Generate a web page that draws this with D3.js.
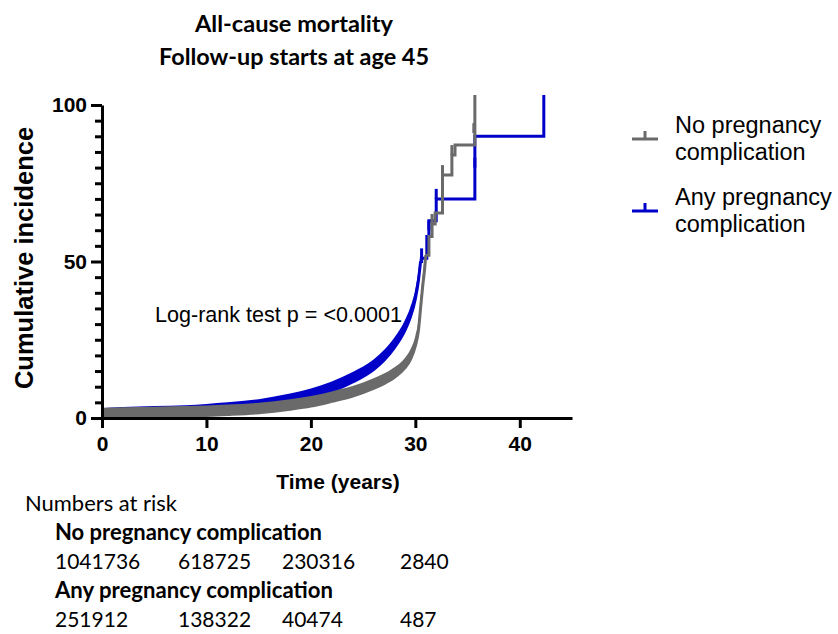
<!DOCTYPE html>
<html>
<head>
<meta charset="utf-8">
<script src="https://cdn.jsdelivr.net/npm/d3@7"></script>
<style>
  body { margin: 0; background: #fff; }
  .axis path, .axis line { stroke: #000; stroke-width: 3px; }
  .axis text { font-family: "Liberation Sans", Arial, sans-serif; font-weight: bold; font-size: 21px; fill: #000; }
</style>
</head>
<body>
<div id="chart"></div>
<script>
// ---- data ----
const titleLines = ["All-cause mortality", "Follow-up starts at age 45"]
const legendLines = [["No pregnancy", "complication"], ["Any pregnancy", "complication"]]
const xTicks = [0, 10, 20, 30, 40]
const yTicks = [0, 50, 100]
const yAllTicks = [0, 5, 10, 15, 20, 25, 30, 35, 40, 45, 50, 55, 60, 65, 70, 75, 80, 85, 90, 95, 100]

// [years, cumulative incidence %], dense part (drawn as a smooth curve with censor band)
const noCompCurve = [[0, 0], [2, 0.2], [5, 0.4], [8, 0.6], [10, 0.8], [12, 1.1], [15, 1.7], [18, 2.8],
  [20, 3.8], [22, 5.3], [24, 7.0], [26, 9.5], [27, 11], [28, 13], [29, 16], [29.5, 18.5], [30, 23],
  [30.3, 28], [30.5, 35], [30.7, 42], [30.9, 48], [31.0, 52]]
// visible steps after the dense part
const noCompSteps = [[31.0, 52], [31.3, 58], [31.6, 62], [31.9, 65.5], [32.6, 77.6], [33.5, 84], [33.8, 87.2], [35.7, 100]]
const noCompCensor = [[31.6, 62], [32.6, 77.6], [33.5, 84], [35.6, 91], [35.7, 100]]

const anyCompCurve = [[0, 0], [2, 0.3], [5, 0.6], [8, 0.9], [10, 1.3], [12, 1.8], [15, 2.8], [18, 4.6],
  [20, 6.2], [22, 8.5], [24, 11.5], [26, 15.5], [27, 18.5], [28, 22.5], [29, 28], [29.5, 32], [30, 38],
  [30.3, 44], [30.5, 50]]
const anyCompSteps = [[30.5, 50], [30.6, 51], [31.1, 58], [31.3, 63], [32.0, 70], [35.7, 90], [42.3, 100]]
const anyCompCensor = [[30.6, 51], [31.3, 60], [32.0, 70], [35.7, 80], [42.3, 100]]

const riskRowNames = ["No pregnancy complication", "Any pregnancy complication"]
const riskNoComp = [1041736, 618725, 230316, 2840]
const riskAnyComp = [251912, 138322, 40474, 487]

const logRankText = "Log-rank test p = <0.0001"

// ---- layout ----
const W = 838, H = 634
const plot = { left: 102, right: 572, top: 105, bottom: 418 }
const tickLen = 10
const gray = "#6a6a6a", blue = "#0000c8"

const svg = d3.select("#chart").append("svg")
  .attr("width", W)
  .attr("height", H)

const x = d3.scaleLinear().domain([0, 45]).range([plot.left, plot.right])
const y = d3.scaleLinear().domain([0, 100]).range([plot.bottom, plot.top])

// shrink/grow a text's font so it spans the width seen in the picture
function fitWidth(sel, width) {
  sel.each(function () {
    const fs = parseFloat(getComputedStyle(this).fontSize)
    const w = this.getComputedTextLength()
    if (w > 0) d3.select(this).style("font-size", (fs * width / w).toFixed(2) + "px")
  })
}

// title
const titleWidths = [198, 270]
svg.append("g").selectAll("text")
  .data(titleLines)
  .join("text")
  .attr("x", 294)
  .attr("y", (d, i) => 32 + i * 33)
  .attr("text-anchor", "middle")
  .style("font-family", "Lato, 'Open Sans', sans-serif")
  .style("font-weight", "bold")
  .style("font-size", "24px")
  .text(d => d)
  .each(function (d, i) { fitWidth(d3.select(this), titleWidths[i]) })

function drawSeries(curve, steps, censor, color) {
  const g = svg.append("g")

  g.append("path")
    .datum(curve)
    .attr("fill", color)
    .attr("d", d3.area()
      .x(d => x(d[0]))
      .y0(d => y(d[1]))
      .y1(d => y(d[1]) - tickLen)
      .curve(d3.curveMonotoneX))

  g.append("path")
    .datum(curve)
    .attr("fill", "none")
    .attr("stroke", color)
    .attr("stroke-width", 3)
    .attr("d", d3.line().x(d => x(d[0])).y(d => y(d[1])).curve(d3.curveMonotoneX))

  g.append("path")
    .datum(steps)
    .attr("fill", "none")
    .attr("stroke", color)
    .attr("stroke-width", 3)
    .attr("d", d3.line().x(d => x(d[0])).y(d => y(d[1])).curve(d3.curveStepAfter))

  g.selectAll("line")
    .data(censor)
    .join("line")
    .attr("x1", d => x(d[0]))
    .attr("x2", d => x(d[0]))
    .attr("y1", d => y(d[1]))
    .attr("y2", d => y(d[1]) - tickLen)
    .attr("stroke", color)
    .attr("stroke-width", 3)
}

drawSeries(anyCompCurve, anyCompSteps, anyCompCensor, blue)
drawSeries(noCompCurve, noCompSteps, noCompCensor, gray)

// axis titles
svg.append("text")
  .attr("x", 338)
  .attr("y", 489)
  .attr("text-anchor", "middle")
  .style("font-family", "'Liberation Sans', Arial, sans-serif")
  .style("font-weight", "bold")
  .style("font-size", "21px")
  .text("Time (years)")

svg.append("text")
  .attr("transform", "translate(33,258) rotate(-90)")
  .attr("text-anchor", "middle")
  .style("font-family", "'Liberation Sans', Arial, sans-serif")
  .style("font-weight", "bold")
  .style("font-size", "25.5px")
  .text("Cumulative incidence")

// log-rank annotation
svg.append("text")
  .attr("x", 155)
  .attr("y", 322)
  .style("font-family", "'Liberation Sans', Arial, sans-serif")
  .style("font-size", "21px")
  .text(logRankText)
  .call(fitWidth, 247)

// legend
const legend = svg.append("g").attr("transform", "translate(632,0)")
const legendColors = [gray, blue]
legendLines.forEach((lines, i) => {
  const top = 139 + i * 72
  legend.append("line")
    .attr("x1", 0).attr("x2", 26)
    .attr("y1", top).attr("y2", top)
    .attr("stroke", legendColors[i]).attr("stroke-width", 3)
  legend.append("line")
    .attr("x1", 13).attr("x2", 13)
    .attr("y1", top).attr("y2", top - 8)
    .attr("stroke", legendColors[i]).attr("stroke-width", 3)
  lines.forEach((t, j) => {
    legend.append("text")
      .attr("x", 43)
      .attr("y", top - 6 + j * 27)
      .style("font-family", "'Liberation Sans', Arial, sans-serif")
      .style("font-size", "23.5px")
      .text(t)
  })
})

// numbers at risk table
const riskCols = [55, 178, 282, 400]
const table = svg.append("g")
  .style("font-family", "Lato, 'Open Sans', sans-serif")
  .style("font-size", "21px")

table.append("text").attr("x", 25).attr("y", 511).text("Numbers at risk").call(fitWidth, 152)

const riskRows = [riskNoComp, riskAnyComp]
const riskNameWidths = [267, 278]
riskRowNames.forEach((name, i) => {
  table.append("text")
    .attr("x", 55)
    .attr("y", 540 + i * 58)
    .style("font-weight", "bold")
    .text(name)
    .call(fitWidth, riskNameWidths[i])
  table.selectAll(null)
    .data(riskRows[i])
    .join("text")
    .attr("x", (d, j) => riskCols[j])
    .attr("y", 569 + i * 58)
    .text(d => d)
})

// axes, drawn last so nothing sits over them
svg.append("g")
  .attr("class", "axis")
  .attr("transform", "translate(0," + plot.bottom + ")")
  .call(d3.axisBottom(x).tickValues(xTicks).tickSize(10).tickSizeOuter(0).tickPadding(8))

const yAxis = svg.append("g")
  .attr("class", "axis")
  .attr("transform", "translate(" + plot.left + ",0)")
  .call(d3.axisLeft(y).tickValues(yAllTicks).tickSize(11).tickSizeOuter(0).tickPadding(4))

// minor ticks: shorter and unlabelled
yAxis.selectAll(".tick")
  .filter(d => !yTicks.includes(d))
  .call(t => t.select("line").attr("x2", -7))
  .call(t => t.select("text").remove())
</script>
</body>
</html>
